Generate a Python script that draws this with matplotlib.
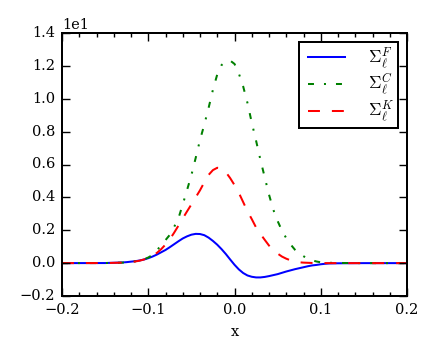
import matplotlib
matplotlib.use("Agg")
import matplotlib.pyplot as plt
from matplotlib.ticker import MultipleLocator

plt.style.use("classic")
plt.rcParams.update({
    "figure.facecolor": "white",
    "savefig.facecolor": "white",
    "font.family": "serif",
    "font.serif": ["DejaVu Serif"],
    "mathtext.fontset": "cm",
    "font.size": 10.5,
    "lines.scale_dashes": False,
})

x = [-0.20, -0.15, -0.13, -0.125, -0.12, -0.115, -0.11, -0.105, -0.10, -0.095,
     -0.09, -0.085, -0.08, -0.075, -0.07, -0.065, -0.06, -0.055, -0.05, -0.045,
     -0.04, -0.035, -0.03, -0.025, -0.02, -0.015, -0.01, -0.005, 0.0, 0.005,
     0.01, 0.015, 0.02, 0.025, 0.03, 0.035, 0.04, 0.045, 0.05, 0.055,
     0.06, 0.065, 0.07, 0.075, 0.08, 0.085, 0.09, 0.095, 0.10, 0.105,
     0.11, 0.12, 0.15, 0.20]

sigma_F = [0.0, 0.005, 0.04, 0.06, 0.09, 0.12, 0.16, 0.22, 0.30, 0.40,
           0.52, 0.66, 0.80, 0.97, 1.15, 1.33, 1.50, 1.63, 1.73, 1.78,
           1.77, 1.70, 1.55, 1.35, 1.12, 0.85, 0.55, 0.22, -0.10, -0.38,
           -0.60, -0.75, -0.83, -0.87, -0.87, -0.84, -0.79, -0.73, -0.67, -0.59,
           -0.51, -0.44, -0.37, -0.31, -0.25, -0.19, -0.14, -0.11, -0.07, -0.04,
           -0.02, -0.01, 0.0, 0.0]

sigma_C = [0.0, 0.005, 0.03, 0.05, 0.08, 0.11, 0.16, 0.23, 0.34, 0.50,
           0.78, 1.08, 1.40, 1.72, 2.20, 2.73, 3.57, 4.45, 5.35, 6.40,
           7.49, 8.43, 9.45, 10.55, 11.48, 12.05, 12.28, 12.32, 12.12, 11.54,
           10.76, 9.75, 8.55, 7.45, 6.30, 5.23, 4.17, 3.25, 2.56, 1.98,
           1.52, 1.14, 0.82, 0.58, 0.42, 0.27, 0.17, 0.10, 0.05, 0.03,
           0.02, 0.01, 0.0, 0.0]

sigma_K = [0.0, 0.005, 0.03, 0.04, 0.07, 0.10, 0.15, 0.22, 0.32, 0.45,
           0.62, 0.85, 1.13, 1.45, 1.85, 2.28, 2.72, 3.15, 3.57, 4.00,
           4.43, 4.92, 5.37, 5.66, 5.80, 5.77, 5.53, 5.17, 4.75, 4.28,
           3.72, 3.16, 2.68, 2.17, 1.78, 1.42, 1.07, 0.80, 0.58, 0.40,
           0.27, 0.17, 0.09, 0.05, 0.03, 0.02, 0.01, 0.005, 0.0, 0.0,
           0.0, 0.0, 0.0, 0.0]

labels = [r"$\Sigma_\ell^F$", r"$\Sigma_\ell^C$", r"$\Sigma_\ell^K$"]

fig = plt.figure(figsize=(4.37, 3.60), dpi=100)
ax = fig.add_axes([62 / 437, 1 - 296 / 360, 345 / 437, 263 / 360])

lw = 1.45
ax.plot(x, sigma_F, color="blue", lw=lw, label=labels[0])
ax.plot(x, sigma_C, color="green", lw=lw, dashes=(4.3, 7.2, 1.44, 7.2), label=labels[1])
ax.plot(x, sigma_K, color="red", lw=lw, dashes=(8.6, 8.6), label=labels[2])

ax.set_xlim(-0.2, 0.2)
ax.set_ylim(-2, 14)
ax.xaxis.set_major_locator(MultipleLocator(0.1))
ax.xaxis.set_minor_locator(MultipleLocator(0.02))
ax.yaxis.set_major_locator(MultipleLocator(2))
ax.yaxis.set_minor_locator(MultipleLocator(100))
ax.ticklabel_format(axis="y", style="sci", scilimits=(0, 0))
ax.tick_params(which="major", direction="in", length=5.5, width=1.0, top=True, right=True, labelsize=10.5, pad=5)
ax.tick_params(which="minor", direction="in", length=3, width=1.0, top=True, right=True)
for s in ax.spines.values():
    s.set_linewidth(1.44)
ax.yaxis.get_offset_text().set_fontsize(10.5)
ax.set_xlabel("x", fontsize=10.5, labelpad=6)

leg = ax.legend(loc="upper right", fontsize=12.5, handlelength=2.7, labelspacing=0.08,
                borderpad=0.22, handletextpad=1.05, borderaxespad=0.5, fancybox=False)
leg.get_frame().set_linewidth(1.44)
leg.get_frame().set_edgecolor("black")

fig.savefig("out.png", dpi=100)
